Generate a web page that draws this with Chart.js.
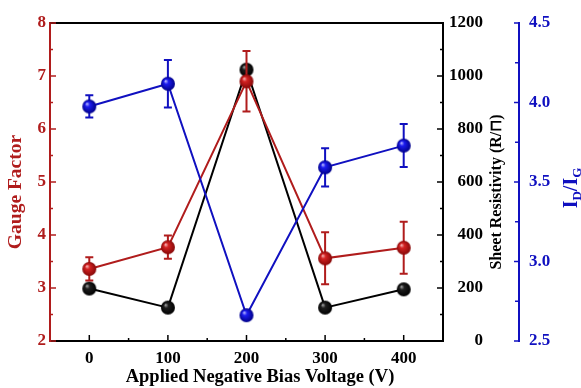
<!DOCTYPE html>
<html><head><meta charset="utf-8">
<script src="https://cdn.jsdelivr.net/npm/chart.js@4"></script>
<style>html,body{margin:0;padding:0;background:#fff}#wrap{width:581px;height:388px}</style>
</head><body><div id="wrap"><canvas id="c" width="581" height="388"></canvas></div>
<script>
// ---- data ----
const voltages = [0, 100, 200, 300, 400];
const gaugeFactor = [3.36, 3.77, 6.90, 3.56, 3.76];
const gaugeErr = [0.22, 0.22, 0.57, 0.49, 0.49];
const sheetResistivity = [198, 126, 1024, 126, 195];
const idIg = [3.975, 4.118, 2.662, 3.592, 3.729];
const idIgErr = [0.07, 0.15, 0, 0.12, 0.135];
const gaugeTicks = [2, 3, 4, 5, 6, 7, 8];
const resTicks = [0, 200, 400, 600, 800, 1000, 1200];
const idIgTicks = [2.5, 3.0, 3.5, 4.0, 4.5];

const FONT = '"Liberation Serif", "Times New Roman", serif';
const RED = '#b01c1c', BLUE = '#1010c0', BLACK = '#000000';

function sphere(light, base, dark, r) {
  const c = document.createElement('canvas');
  const s = 2 * r + 2; c.width = c.height = s;
  const g = c.getContext('2d');
  const cx = s / 2, cy = s / 2;
  const gr = g.createRadialGradient(cx - r * 0.35, cy - r * 0.4, r * 0.05, cx, cy, r);
  gr.addColorStop(0, light); gr.addColorStop(0.3, base); gr.addColorStop(1, dark);
  g.fillStyle = gr; g.beginPath(); g.arc(cx, cy, r, 0, Math.PI * 2); g.fill();
  return c;
}
const redBall = sphere('#f6b4b4', '#d42222', '#860808', 7);
const blueBall = sphere('#b8b8ff', '#1c1cf0', '#000088', 7);
const blackBall = sphere('#a0a0a0', '#1e1e1e', '#000000', 7);

const pts = (ys) => voltages.map((v, i) => ({ x: v, y: ys[i] }));

const errorBars = {
  id: 'errorBars',
  beforeDatasetDraw(chart, args) {
    const ds = chart.data.datasets[args.index];
    if (!ds.errors) return;
    const ys = chart.scales[ds.yAxisID];
    const ctx = chart.ctx;
    ctx.save();
    ctx.strokeStyle = ds.borderColor; ctx.lineWidth = 2;
    args.meta.data.forEach((p, i) => {
      const e = ds.errors[i]; if (!e) return;
      const v = ds.data[i].y;
      const t = ys.getPixelForValue(v + e), b = ys.getPixelForValue(v - e);
      ctx.beginPath();
      ctx.moveTo(p.x, t); ctx.lineTo(p.x, b);
      ctx.moveTo(p.x - 4, t); ctx.lineTo(p.x + 4, t);
      ctx.moveTo(p.x - 4, b); ctx.lineTo(p.x + 4, b);
      ctx.stroke();
    });
    ctx.restore();
  }
};

const axisDecor = {
  id: 'axisDecor',
  afterLayout(chart) {
    // right-align the sheet-resistivity labels at a fixed column
    const s = chart.scales.y2;
    s.right = s.left + 40;
  },
  beforeDatasetsDraw(chart) {
    const ctx = chart.ctx, a = chart.chartArea;
    const { x, y, y2, y3 } = chart.scales;
    ctx.save();
    ctx.lineWidth = 2;
    ctx.strokeStyle = BLACK;
    ctx.beginPath(); ctx.moveTo(a.left, a.top); ctx.lineTo(a.right, a.top); ctx.stroke();
    ctx.lineWidth = 1.5;
    ctx.strokeStyle = RED;
    for (let v = 2; v <= 8.001; v += 0.5) {
      const p = y.getPixelForValue(v), L = (Math.abs(v - Math.round(v)) < 1e-6) ? 6 : 3;
      ctx.beginPath(); ctx.moveTo(a.left, p); ctx.lineTo(a.left + L, p); ctx.stroke();
    }
    ctx.strokeStyle = BLACK;
    for (let v = 0; v <= 400; v += 50) {
      const p = x.getPixelForValue(v), L = v % 100 === 0 ? 6 : 3;
      ctx.beginPath(); ctx.moveTo(p, a.bottom); ctx.lineTo(p, a.bottom - L); ctx.stroke();
    }
    for (let v = 0; v <= 1200; v += 100) {
      const p = y2.getPixelForValue(v), L = v % 200 === 0 ? 6 : 3;
      ctx.beginPath(); ctx.moveTo(a.right, p); ctx.lineTo(a.right - L, p); ctx.stroke();
    }
    ctx.strokeStyle = BLUE;
    const bx = y3.left;
    for (let v = 2.5; v <= 4.501; v += 0.25) {
      const p = y3.getPixelForValue(v), L = (Math.abs(v * 2 - Math.round(v * 2)) < 1e-6) ? 5 : 4;
      ctx.beginPath(); ctx.moveTo(bx, p); ctx.lineTo(bx - L, p); ctx.stroke();
    }
    ctx.restore();
  },
  afterDraw(chart) {
    const ctx = chart.ctx;
    ctx.save();
    ctx.textAlign = 'center'; ctx.textBaseline = 'middle';
    ctx.fillStyle = BLACK; ctx.font = 'bold 18.5px ' + FONT;
    ctx.fillText('Applied Negative Bias Voltage (V)', 260, 377);
    ctx.save(); ctx.translate(16, 192); ctx.rotate(-Math.PI / 2);
    ctx.fillStyle = RED; ctx.font = 'bold 19.5px ' + FONT;
    ctx.fillText('Gauge Factor', 0, 0); ctx.restore();
    ctx.save(); ctx.translate(497, 192); ctx.rotate(-Math.PI / 2);
    ctx.fillStyle = BLACK; ctx.font = 'bold 16px ' + FONT;
    ctx.fillText('Sheet Resistivity (R/\u2293)', 0, 0); ctx.restore();
    ctx.save(); ctx.translate(570, 188); ctx.rotate(-Math.PI / 2);
    ctx.fillStyle = BLUE; ctx.textAlign = 'left'; ctx.textBaseline = 'alphabetic';
    const parts = [['I', 20, 0], ['D', 13, 4], ['/I', 20, 0], ['G', 13, 4]];
    let total = 0;
    parts.forEach(p => { ctx.font = 'bold ' + p[1] + 'px ' + FONT; total += ctx.measureText(p[0]).width; });
    let cx = -total / 2;
    parts.forEach(p => { ctx.font = 'bold ' + p[1] + 'px ' + FONT; ctx.fillText(p[0], cx, 7 + p[2]); cx += ctx.measureText(p[0]).width; });
    ctx.restore();
    ctx.restore();
  }
};

const tickFont = { family: FONT, size: 17, weight: 'bold' };

new Chart(document.getElementById('c'), {
  type: 'line',
  data: {
    datasets: [
      { label: 'Sheet Resistivity', data: pts(sheetResistivity), yAxisID: 'y2', borderColor: BLACK,
        borderWidth: 2, pointStyle: blackBall, pointRadius: 7, order: 3 },
      { label: 'Gauge Factor', data: pts(gaugeFactor), errors: gaugeErr, yAxisID: 'y', borderColor: RED,
        borderWidth: 2, pointStyle: redBall, pointRadius: 7, order: 2 },
      { label: 'ID/IG', data: pts(idIg), errors: idIgErr, yAxisID: 'y3', borderColor: BLUE,
        borderWidth: 2, pointStyle: blueBall, pointRadius: 7, order: 1 }
    ]
  },
  options: {
    responsive: false, animation: false,
    layout: { padding: { top: 23, right: 0, left: 0, bottom: 0 } },
    plugins: { legend: { display: false }, tooltip: { enabled: false } },
    scales: {
      x: { type: 'linear', min: -50, max: 450,
        afterBuildTicks: s => { s.ticks = voltages.map(v => ({ value: v })); },
        ticks: { font: tickFont, color: BLACK, padding: 7, maxRotation: 0, callback: v => String(v) },
        grid: { display: false, drawTicks: false },
        border: { display: true, color: BLACK, width: 2 },
        afterFit: s => { s.height = 47; } },
      y: { position: 'left', min: 2, max: 8,
        afterBuildTicks: s => { s.ticks = gaugeTicks.map(v => ({ value: v })); },
        ticks: { font: tickFont, color: RED, padding: 4, callback: v => String(v) },
        grid: { display: false, drawTicks: false },
        border: { display: true, color: RED, width: 2 },
        afterFit: s => { s.width = 50; } },
      y2: { position: 'right', min: 0, max: 1200,
        afterBuildTicks: s => { s.ticks = resTicks.map(v => ({ value: v })); },
        ticks: { font: tickFont, color: BLACK, padding: 4, crossAlign: 'far', callback: v => String(v) },
        grid: { display: false, drawTicks: false },
        border: { display: true, color: BLACK, width: 2 },
        afterFit: s => { s.width = 76; } },
      y3: { position: 'right', min: 2.5, max: 4.5,
        afterBuildTicks: s => { s.ticks = idIgTicks.map(v => ({ value: v })); },
        ticks: { font: tickFont, color: BLUE, padding: 10, callback: v => Number(v).toFixed(1) },
        grid: { display: false, drawTicks: false },
        border: { display: true, color: BLUE, width: 2 },
        afterFit: s => { s.width = 62; } }
    }
  },
  plugins: [errorBars, axisDecor]
});
</script>
</body></html>
